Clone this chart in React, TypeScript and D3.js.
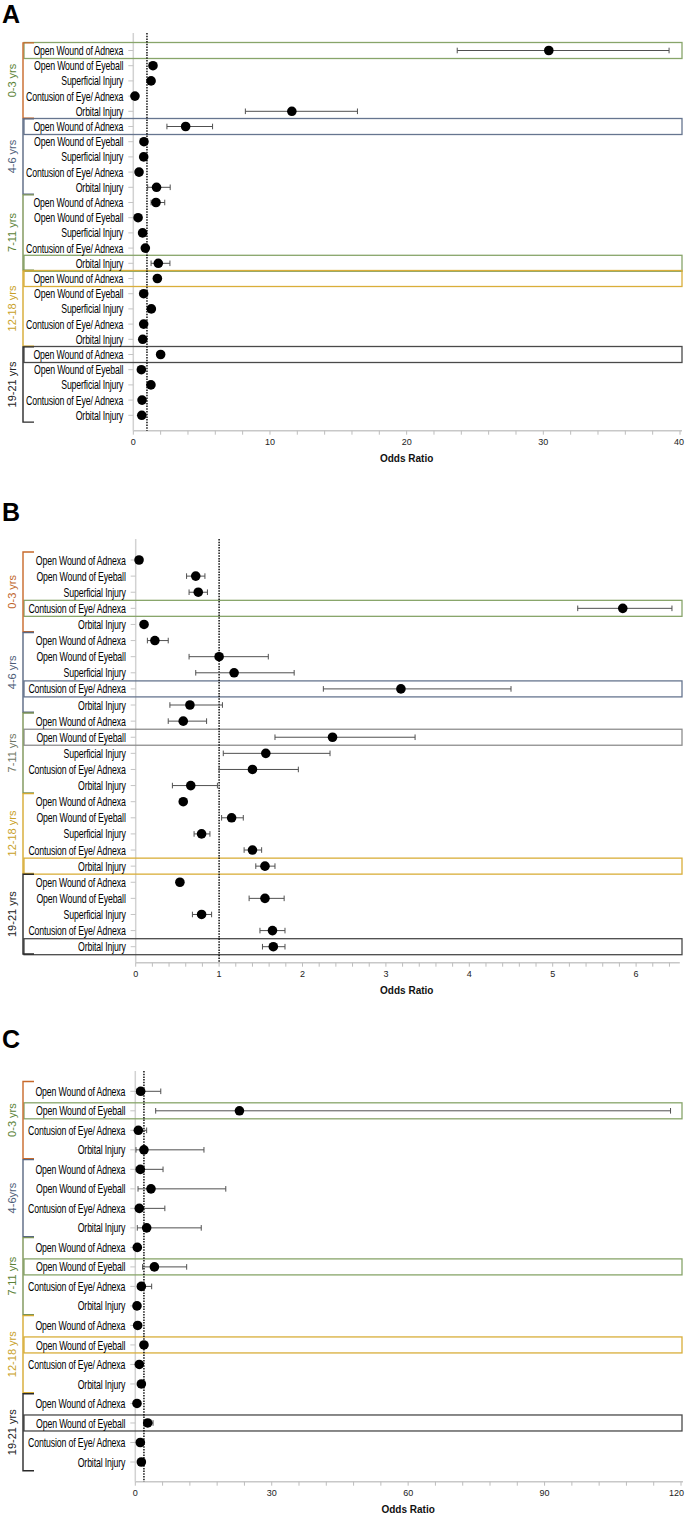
import React from "react";
import * as d3 from "d3";

// ---------- DATA ----------
const ageGroupsAB = ["0-3 yrs", "4-6 yrs", "7-11 yrs", "12-18 yrs", "19-21 yrs"];
const ageGroupsC = ["0-3 yrs", "4-6yrs", "7-11 yrs", "12-18 yrs", "19-21 yrs"];
const injuriesAB = ["Open Wound of Adnexa", "Open Wound of Eyeball", "Superficial Injury", "Contusion of Eye/ Adnexa", "Orbital Injury"];
const injuriesC = ["Open Wound of Adnexa", "Open Wound of Eyeball", "Contusion of Eye/ Adnexa", "Orbital Injury"];

// Panel A (x: 0-40)
const orA = [30.4, 1.44, 1.3, 0.12, 11.6, 3.83, 0.78, 0.76, 0.42, 1.7, 1.66, 0.35, 0.68, 0.88, 1.83, 1.76, 0.76, 1.32, 0.76, 0.69, 2.0, 0.59, 1.29, 0.64, 0.62];
const loA = [23.7, null, null, null, 8.2, 2.46, null, null, null, 1.05, 1.3, null, null, null, 1.3, null, null, null, null, null, null, null, null, null, null];
const hiA = [39.2, null, null, null, 16.4, 5.8, null, null, null, 2.7, 2.3, null, null, null, 2.68, null, null, null, null, null, null, null, null, null, null];

// Panel B (x: 0-6.5)
const orB = [0.04, 0.72, 0.75, 5.84, 0.1, 0.23, 1.0, 1.18, 3.18, 0.65, 0.57, 2.36, 1.56, 1.4, 0.66, 0.57, 1.15, 0.79, 1.4, 1.55, 0.53, 1.55, 0.79, 1.64, 1.65];
const loB = [null, 0.61, 0.64, 5.3, null, 0.14, 0.64, 0.72, 2.25, 0.41, 0.39, 1.67, 1.05, 1.0, 0.44, null, 1.03, 0.7, 1.3, 1.44, null, 1.36, 0.68, 1.49, 1.52];
const hiB = [null, 0.83, 0.86, 6.43, null, 0.39, 1.59, 1.9, 4.5, 1.04, 0.85, 3.35, 2.33, 1.95, 0.98, null, 1.29, 0.89, 1.51, 1.67, null, 1.78, 0.91, 1.79, 1.79];

// Panel C (x: 0-120)
const orC = [1.18, 22.9, 0.67, 1.9, 1.1, 3.45, 0.88, 2.5, 0.44, 4.2, 1.33, 0.37, 0.52, 1.9, 0.88, 1.33, 0.37, 2.72, 1.1, 1.33];
const loC = [0.3, 4.48, 0.2, 0.15, 0.2, 0.6, 0.1, 0.44, null, 1.6, 0.5, null, null, null, null, null, null, 2.0, null, null];
const hiC = [5.6, 117.7, 2.5, 15.1, 6.1, 19.9, 6.5, 14.5, null, 11.3, 3.6, null, null, null, null, null, null, 3.9, null, null];

const highlightA = [{ row: 0, tone: "green" }, { row: 5, tone: "slate" }, { row: 14, tone: "green" }, { row: 15, tone: "gold" }, { row: 20, tone: "dark" }];
const highlightB = [{ row: 3, tone: "green" }, { row: 8, tone: "slate" }, { row: 11, tone: "gray" }, { row: 19, tone: "gold" }, { row: 24, tone: "dark" }];
const highlightC = [{ row: 1, tone: "green" }, { row: 9, tone: "green" }, { row: 13, tone: "gold" }, { row: 17, tone: "dark" }];

const labelTonesA = ["green", "slate", "green", "gold", "dark"];
const labelTonesB = ["orange", "slate", "gray", "gold", "dark"];
const labelTonesC = ["green", "slate", "green", "gold", "dark"];
const bracketTones = ["orange", "slate", "green", "gold", "dark"];

// ---------- STYLE ----------
const boxColors: Record<string, string> = {
  green: "#88a56a",
  slate: "#66758f",
  gold: "#d9ae3a",
  dark: "#4a4a4a",
  gray: "#8e8e8e",
};
const bracketColors: Record<string, string> = {
  orange: "#c8692a",
  slate: "#5a6882",
  green: "#7d9457",
  gold: "#d6aa32",
  dark: "#2a2a2a",
};
const textColors: Record<string, string> = {
  orange: "#c0652a",
  slate: "#4e5d78",
  green: "#5a8236",
  gold: "#c9a128",
  dark: "#222222",
  gray: "#6f7765",
};

const FONT = "'Liberation Sans', Arial, sans-serif";
const SVG_W = 685;

type PanelProps = {
  letter: string;
  letterY: number;
  groups: string[];
  injuries: string[];
  or: number[];
  lo: (number | null)[];
  hi: (number | null)[];
  highlights: { row: number; tone: string }[];
  labelTones: string[];
  top: number;
  firstRow: number;
  lastRow: number;
  axisY: number;
  x0: number;
  x1: number;
  domain: [number, number];
  majorStep: number;
  minorStep: number;
  refValue: number;
};

function Panel(p: PanelProps) {
  const rows: string[] = [];
  const rowLabels: string[] = [];
  p.groups.forEach((g, gi) =>
    p.injuries.forEach((inj) => {
      rows.push(`${gi}-${inj}`);
      rowLabels.push(inj);
    })
  );
  const y = d3.scalePoint<string>().domain(rows).range([p.firstRow, p.lastRow]);
  const step = y.step();
  const x = d3.scaleLinear().domain(p.domain).range([p.x0, p.x1]);
  const majors = d3.range(p.domain[0], p.domain[1] + 1e-9, p.majorStep);
  const minors = d3.range(p.domain[0], p.domain[1] + 1e-9, p.minorStep);
  const nPer = p.injuries.length;
  const boxL = 24;
  const boxR = 682;

  return (
    <g>
      <text x={2} y={p.letterY} fontFamily={FONT} fontWeight="bold" fontSize={25} fill="#000">
        {p.letter}
      </text>
      {/* y axis */}
      <line x1={p.x0} x2={p.x0} y1={p.top} y2={p.axisY} stroke="#d2d2d2" strokeWidth={1.5} />
      {rows.map((r, i) => (
        <line key={"yt" + i} x1={p.x0 - 5} x2={p.x0} y1={y(r)} y2={y(r)} stroke="#c4c4c4" strokeWidth={1} />
      ))}
      {/* highlight boxes */}
      {p.highlights.map((h, i) => {
        const cy = y(rows[h.row]) as number;
        return (
          <rect key={"hb" + i} x={boxL} y={cy - 8} width={boxR - boxL} height={16} fill="none" stroke={boxColors[h.tone]} strokeWidth={1.3} />
        );
      })}
      {/* category labels (condensed) */}
      {rows.map((r, i) => (
        <text
          key={"cl" + i}
          transform={`translate(${p.x0 - 10},${y(r)}) scale(0.73,1)`}
          textAnchor="end"
          dominantBaseline="central"
          fontFamily={FONT}
          fontSize={12}
          letterSpacing={-0.2}
          fill="#000"
        >
          {rowLabels[i]}
        </text>
      ))}
      {/* brackets and group labels */}
      {p.groups.map((g, gi) => {
        const t = (y(rows[gi * nPer]) as number) - step * 0.5;
        const b = (y(rows[gi * nPer + nPer - 1]) as number) + step * 0.45;
        const bx = 23;
        const mid = (t + b) / 2;
        return (
          <g key={"gr" + gi}>
            <path d={`M${bx + 11},${t} H${bx} V${b} H${bx + 11}`} fill="none" stroke={bracketColors[bracketTones[gi]]} strokeWidth={1.4} />
            <text transform={`translate(12,${mid}) rotate(-90)`} textAnchor="middle" dominantBaseline="central" fontFamily={FONT} fontSize={11} fill={textColors[p.labelTones[gi]]}>
              {g}
            </text>
          </g>
        );
      })}
      {/* x axis */}
      <line x1={p.x0} x2={p.x1 + 2} y1={p.axisY} y2={p.axisY} stroke="#c8c8c8" strokeWidth={1.5} />
      {minors.map((v, i) => (
        <line key={"mt" + i} x1={x(v)} x2={x(v)} y1={p.axisY} y2={p.axisY + 4} stroke="#bdbdbd" strokeWidth={1} />
      ))}
      {majors.map((v, i) => {
        const tx = x(v);
        const nearEdge = tx > SVG_W - 10;
        return (
          <text key={"tl" + i} x={nearEdge ? SVG_W - 1 : tx} y={p.axisY + 14} textAnchor={nearEdge ? "end" : "middle"} fontFamily={FONT} fontSize={9} fill="#222">
            {v}
          </text>
        );
      })}
      <text x={(p.x0 + p.x1) / 2} y={p.axisY + 31} textAnchor="middle" fontFamily={FONT} fontWeight="bold" fontSize={10} fill="#111">
        Odds Ratio
      </text>
      {/* reference line */}
      <line x1={x(p.refValue)} x2={x(p.refValue)} y1={p.top} y2={p.axisY} stroke="#000" strokeWidth={1.4} strokeDasharray="1.5,1.2" />
      {/* error bars and points */}
      {rows.map((r, i) => {
        const cy = y(r) as number;
        const lo = p.lo[i];
        const hi = p.hi[i];
        return (
          <g key={"pt" + i}>
            {lo != null && hi != null && (
              <g stroke="#505050" strokeWidth={1}>
                <line x1={x(lo)} x2={x(hi)} y1={cy} y2={cy} />
                <line x1={x(lo)} x2={x(lo)} y1={cy - 2.8} y2={cy + 2.8} />
                <line x1={x(hi)} x2={x(hi)} y1={cy - 2.8} y2={cy + 2.8} />
              </g>
            )}
            <circle cx={x(p.or[i])} cy={cy} r={4.8} fill="#000" />
          </g>
        );
      })}
    </g>
  );
}

export default function App() {
  return (
    <div style={{ position: "absolute", left: 0, top: 0 }}>
      <svg width={SVG_W} height={1515} style={{ display: "block", background: "#fff" }}>
        <Panel
          letter="A" letterY={23}
          groups={ageGroupsAB} injuries={injuriesAB}
          or={orA} lo={loA} hi={hiA}
          highlights={highlightA} labelTones={labelTonesA}
          top={33} firstRow={50.5} lastRow={415.3} axisY={430.7}
          x0={133.3} x1={680} domain={[0, 40]} majorStep={10} minorStep={2} refValue={1}
        />
        <Panel
          letter="B" letterY={521}
          groups={ageGroupsAB} injuries={injuriesAB}
          or={orB} lo={loB} hi={hiB}
          highlights={highlightB} labelTones={labelTonesB}
          top={539} firstRow={560} lastRow={946.7} axisY={962.7}
          x0={135.7} x1={677.8} domain={[0, 6.5]} majorStep={1} minorStep={0.2} refValue={1}
        />
        <Panel
          letter="C" letterY={1048}
          groups={ageGroupsC} injuries={injuriesC}
          or={orC} lo={loC} hi={hiC}
          highlights={highlightC} labelTones={labelTonesC}
          top={1071} firstRow={1091.3} lastRow={1462} axisY={1481.7}
          x0={135.3} x1={681} domain={[0, 120]} majorStep={30} minorStep={6} refValue={1.9}
        />
      </svg>
    </div>
  );
}
